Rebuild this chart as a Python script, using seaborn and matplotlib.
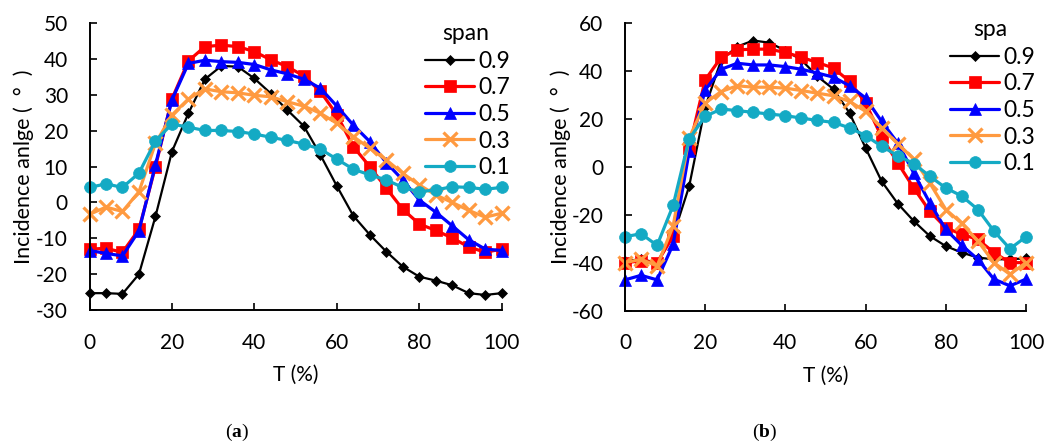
import numpy as np
import pandas as pd
import matplotlib
matplotlib.use("Agg")
import matplotlib.pyplot as plt
import seaborn as sns

# ---------------- data ----------------
T = [0, 4, 8, 12, 16, 20, 24, 28, 32, 36, 40, 44, 48, 52, 56, 60, 64, 68, 72, 76, 80, 84, 88, 92, 96, 100]
span_labels = ["0.9", "0.7", "0.5", "0.3", "0.1"]

# panel (a)
a_09 = [-25.3, -25.3, -25.5, -20.0, -3.9, 14.2, 24.9, 34.4, 38.1, 37.9, 34.6, 30.4, 25.8, 21.3, 13.3, 4.6,
        -3.7, -9.0, -13.7, -17.9, -20.7, -21.8, -23.1, -25.3, -25.8, -25.3]
a_07 = [-13.0, -12.8, -13.9, -7.5, 10.0, 28.9, 39.5, 43.5, 43.9, 43.5, 42.1, 39.8, 37.9, 35.3, 31.0, 24.5,
        15.6, 10.0, 4.0, -1.9, -6.0, -7.8, -9.9, -12.4, -13.9, -13.0]
a_05 = [-13.4, -14.2, -14.9, -7.9, 10.5, 28.6, 38.8, 39.7, 39.3, 39.1, 38.5, 37.0, 35.9, 34.4, 31.9, 26.9,
        21.6, 17.0, 11.1, 6.3, 0.7, -2.7, -6.5, -10.4, -13.0, -13.4]
a_03 = [-3.3, -1.3, -2.5, 3.0, 16.5, 24.4, 28.9, 31.7, 30.9, 30.6, 29.9, 29.5, 28.1, 26.9, 24.9, 22.1,
        18.4, 15.1, 11.9, 8.1, 4.9, 2.1, 0.0, -2.2, -4.1, -3.0]
a_01 = [4.2, 5.2, 4.2, 8.2, 17.2, 21.9, 21.0, 20.1, 20.1, 19.8, 19.1, 18.2, 17.3, 16.3, 14.9, 12.1,
        9.3, 7.7, 6.3, 4.2, 3.0, 3.5, 4.4, 4.2, 3.7, 4.2]

# panel (b)
b_09 = [-39.3, -38.6, -40.0, -28.9, -8.1, 25.0, 44.7, 50.3, 52.8, 51.9, 48.6, 44.7, 37.8, 32.5, 22.5, 7.9,
        -6.0, -15.3, -22.6, -28.9, -33.1, -35.8, -37.9, -38.6, -38.6, -38.2]
b_07 = [-40.0, -39.3, -40.0, -28.9, 7.9, 36.4, 45.8, 48.9, 49.2, 49.2, 47.8, 45.8, 43.6, 41.3, 35.7, 26.7,
        12.5, 1.7, -8.8, -18.5, -25.4, -28.2, -30.3, -35.8, -40.0, -40.0]
b_05 = [-47.2, -45.3, -47.2, -32.4, 6.5, 32.2, 40.8, 43.3, 42.6, 42.6, 41.9, 40.8, 39.2, 37.5, 33.9, 28.8,
        19.0, 10.0, -2.5, -15.0, -26.1, -32.8, -38.6, -46.9, -49.7, -46.9]
b_03 = [-40.0, -38.6, -41.4, -24.7, 12.1, 26.7, 31.5, 33.9, 33.3, 33.3, 32.9, 31.9, 30.8, 29.7, 27.4, 23.2,
        16.3, 9.7, 3.3, -6.7, -17.8, -23.6, -31.0, -40.0, -44.9, -40.0]
b_01 = [-29.2, -27.9, -32.8, -16.1, 11.7, 21.1, 24.2, 23.5, 22.8, 22.1, 21.4, 20.4, 19.4, 18.6, 16.3, 13.1,
        8.6, 4.7, 1.4, -3.9, -8.8, -12.2, -17.8, -26.8, -34.2, -29.2]

x_ticks = [0, 20, 40, 60, 80, 100]
a_yticks = [-30, -20, -10, 0, 10, 20, 30, 40, 50]
b_yticks = [-60, -40, -20, 0, 20, 40, 60]

# ---------------- style ----------------
sns.set_theme(style="white")
plt.rcParams["font.family"] = ["Lato", "DejaVu Sans"]
plt.rcParams["axes.unicode_minus"] = False
plt.rcParams["mathtext.fontset"] = "custom"
plt.rcParams["mathtext.rm"] = "Liberation Serif"
plt.rcParams["mathtext.bf"] = "Liberation Serif:bold"

styles = {
    "0.9": dict(color="#000000", marker="D", ms=5.5, lw=1.6, mew=0.5),
    "0.7": dict(color="#FF0000", marker="s", ms=8.0, lw=2.3, mew=0.5),
    "0.5": dict(color="#0000FF", marker="^", ms=9.0, lw=2.3, mew=0.5),
    "0.3": dict(color="#FF9A40", marker="x", ms=10.5, lw=2.3, mew=2.3),
    "0.1": dict(color="#14AAC4", marker="o", ms=8.5, lw=2.3, mew=0.5),
}

W, H = 1046, 444
fig = plt.figure(figsize=(W / 100, H / 100), dpi=100)

def px_axes(x0, x1, ytop, ybot):
    return fig.add_axes([x0 / W, 1 - ybot / H, (x1 - x0) / W, (ybot - ytop) / H])

ax_a = px_axes(89.5, 501.7, 23.3, 310.0)
ax_b = px_axes(625.0, 1026.0, 23.3, 310.5)

FS_TICK = 15
FS_LEG = 16.5

panels = [
    # ax, series, ylim, yticks, legend title, title centre (px), legend top-left (px), ylabel x, panel label, label x
    (ax_a, [a_09, a_07, a_05, a_03, a_01], (-30, 50), a_yticks, "span", (466, 33), (425, 51), 24, "a", 237),
    (ax_b, [b_09, b_07, b_05, b_03, b_01], (-60, 60), b_yticks, "spa", (990, 30), (950, 47), 561, "b", 765),
]

for ax, series, ylim, yticks, title, tpos, legpos, ylx, plabel, plx in panels:
    handles = []
    for lab, vals in zip(span_labels, series):
        st = styles[lab]
        df = pd.DataFrame({"T": T, "v": vals})
        sns.lineplot(data=df, x="T", y="v", ax=ax, color=st["color"], marker=st["marker"],
                     markersize=st["ms"], linewidth=st["lw"], markeredgewidth=st["mew"],
                     markeredgecolor=st["color"], clip_on=False, legend=False)
        handles.append(ax.lines[-1])
    ax.set_xlim(0, 100)
    ax.set_ylim(*ylim)
    ax.set_xticks(x_ticks)
    ax.set_yticks(yticks)
    for s in ["top", "right"]:
        ax.spines[s].set_visible(False)
    for s in ["left", "bottom"]:
        ax.spines[s].set_color("black")
        ax.spines[s].set_linewidth(1.4)
    ax.tick_params(axis="both", direction="in", length=5, width=1.2, colors="black",
                   labelsize=FS_TICK, left=True, bottom=True)
    ax.tick_params(axis="x", pad=16.5)
    ax.tick_params(axis="y", pad=15.5)
    ax.set_xlabel("T (%)", fontsize=FS_TICK, color="black")
    ax.xaxis.label.set_va("center")
    ax.xaxis.set_label_coords(0.5, (310 - 375) / 286.7)
    ax.set_ylabel("Incidence anlge (  °  )", fontsize=15.5, color="black")
    ax.yaxis.label.set_va("center")
    x0 = ax.get_position().x0 * W
    wpx = ax.get_position().width * W
    ax.yaxis.set_label_coords((ylx - x0) / wpx, 0.5)
    leg = ax.legend(handles, span_labels, loc="upper left",
                    bbox_to_anchor=(legpos[0] / W, 1 - legpos[1] / H),
                    bbox_transform=fig.transFigure, frameon=False, fontsize=FS_LEG,
                    handlelength=2.15, handletextpad=0.17,
                    labelspacing=0.24, borderpad=0, borderaxespad=0)
    for t in leg.get_texts():
        t.set_color("black")
    fig.text(tpos[0] / W, 1 - tpos[1] / H, title, fontsize=FS_LEG, ha="center", va="center",
             color="black")
    fig.text(plx / W, 1 - 432 / H, "(" + r"$\mathbf{" + plabel + "}$" + ")",
             family="Liberation Serif", fontsize=14, ha="center", va="center", color="black")

fig.savefig("out.png", dpi=100, facecolor="white")
